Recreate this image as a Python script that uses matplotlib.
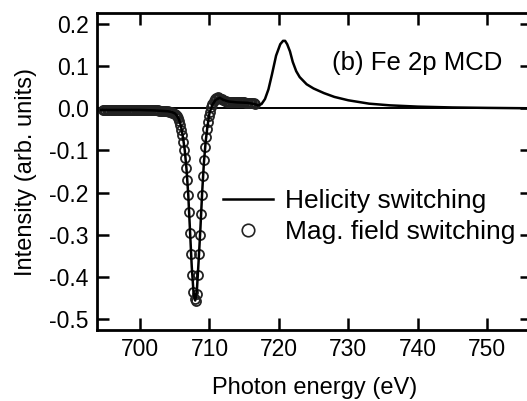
import numpy as np
import matplotlib.pyplot as plt
from matplotlib.lines import Line2D

plt.rcParams['font.family'] = ['Liberation Sans', 'DejaVu Sans']

# helicity switching (solid line)
heli_e = [694.4, 697.0, 700.0, 702.0, 703.0, 704.0, 704.6, 705.0, 705.3, 705.6,
          705.9, 706.2, 706.45, 706.7, 706.95, 707.2, 707.45, 707.7, 707.95, 708.2,
          708.45, 708.7, 708.95, 709.2, 709.45, 709.7, 710.0, 710.4, 710.9, 711.5,
          712.0, 712.8, 714.0, 715.5, 716.5, 717.0, 717.5, 718.0, 718.5, 719.0,
          719.6, 720.2, 720.6, 720.9, 721.2, 721.6, 722.0, 722.5, 723.0, 724.0,
          725.0, 726.5, 728.0, 730.0, 733.0, 736.0, 740.0, 745.0, 750.0, 756.5]
heli_i = [-0.004, -0.004, -0.004, -0.005, -0.006, -0.007, -0.009, -0.012, -0.017, -0.026,
          -0.042, -0.070, -0.100, -0.145, -0.205, -0.290, -0.375, -0.435, -0.456, -0.430,
          -0.360, -0.285, -0.200, -0.130, -0.080, -0.045, -0.012, 0.008, 0.020, 0.025,
          0.020, 0.016, 0.014, 0.013, 0.010, 0.007, 0.010, 0.022, 0.045, 0.080,
          0.125, 0.152, 0.160, 0.160, 0.152, 0.135, 0.110, 0.088, 0.074, 0.057,
          0.047, 0.036, 0.027, 0.019, 0.011, 0.007, 0.004, 0.002, 0.001, 0.000]

# magnetic field switching (open circles)
mag_e = [694.6, 694.8, 695.0, 695.2, 695.4, 695.6, 695.8, 696.0, 696.2, 696.4,
         696.6, 696.8, 697.0, 697.2, 697.4, 697.6, 697.8, 698.0, 698.2, 698.4,
         698.6, 698.8, 699.0, 699.2, 699.4, 699.6, 699.8, 700.0, 700.2, 700.4,
         700.6, 700.8, 701.0, 701.2, 701.4, 701.6, 701.8, 702.0, 702.2, 702.4,
         702.6, 702.8, 703.0, 703.2, 703.4, 703.6, 703.8, 704.0, 704.2, 704.4,
         704.6, 704.8, 705.0, 705.15, 705.3, 705.45, 705.6, 705.75, 705.9, 706.05,
         706.2, 706.35, 706.5, 706.65, 706.8, 706.95, 707.1, 707.25, 707.4, 707.55,
         707.7, 707.85, 708.0, 708.15, 708.3, 708.45, 708.6, 708.75, 708.9, 709.05,
         709.2, 709.35, 709.5, 709.65, 709.8, 709.95, 710.1, 710.25, 710.4, 710.6,
         710.8, 711.0, 711.2, 711.4, 711.6, 711.8, 712.0, 712.2, 712.4, 712.6,
         712.8, 713.0, 713.2, 713.4, 713.6, 713.8, 714.0, 714.2, 714.4, 714.6,
         714.8, 715.0, 715.2, 715.4, 715.6, 715.8, 716.0, 716.2, 716.4, 716.6]
mag_i = [-0.004, -0.004, -0.005, -0.004, -0.004, -0.005, -0.004, -0.004, -0.004, -0.005,
         -0.004, -0.004, -0.004, -0.005, -0.004, -0.004, -0.004, -0.004, -0.005, -0.004,
         -0.004, -0.004, -0.005, -0.004, -0.004, -0.004, -0.004, -0.005, -0.004, -0.004,
         -0.004, -0.005, -0.004, -0.004, -0.004, -0.005, -0.004, -0.005, -0.005, -0.005,
         -0.005, -0.006, -0.006, -0.006, -0.006, -0.007, -0.007, -0.007, -0.008, -0.009,
         -0.010, -0.011, -0.013, -0.015, -0.019, -0.024, -0.031, -0.040, -0.051, -0.064,
         -0.080, -0.098, -0.118, -0.142, -0.170, -0.205, -0.245, -0.295, -0.345, -0.395,
         -0.435, -0.452, -0.456, -0.440, -0.395, -0.345, -0.300, -0.250, -0.205, -0.160,
         -0.122, -0.092, -0.068, -0.048, -0.032, -0.019, -0.008, 0.002, 0.010, 0.017,
         0.022, 0.025, 0.026, 0.025, 0.023, 0.021, 0.019, 0.018, 0.017, 0.016,
         0.016, 0.015, 0.015, 0.015, 0.015, 0.014, 0.014, 0.014, 0.014, 0.014,
         0.014, 0.014, 0.013, 0.013, 0.013, 0.013, 0.013, 0.012, 0.012, 0.011]

y_ticks = [0.2, 0.1, 0.0, -0.1, -0.2, -0.3, -0.4, -0.5]
x_ticks = [700, 710, 720, 730, 740, 750]

fig = plt.figure(figsize=(5.27, 4.01), dpi=100)
ax = fig.add_axes([0.184, 0.177, 0.826, 0.7905])

ax.axhline(0, color='black', lw=1.4, zorder=1)
ax.plot(mag_e, mag_i, 'o', ms=6.5, mfc='none', mec='#222222', mew=1.3, zorder=2)
ax.plot(heli_e, heli_i, '-', color='black', lw=1.8, zorder=3)

ax.set_xlim(693.8, 756.5)
ax.set_ylim(-0.526, 0.226)
ax.set_xticks(x_ticks)
ax.set_yticks(y_ticks)
ax.set_yticklabels([f"{v:.1f}" for v in y_ticks])

for s in ax.spines.values():
    s.set_linewidth(2.0)
ax.tick_params(direction='in', length=8.5, width=1.8, labelsize=16.5,
               top=True, right=True)
ax.tick_params(axis='x', pad=6)
ax.tick_params(axis='y', pad=6)

ax.set_xlabel('Photon energy (eV)', fontsize=17, labelpad=11)
ax.set_ylabel('Intensity (arb. units)', fontsize=17, labelpad=9)

ax.text(0.540, 0.843, '(b) Fe 2p MCD', transform=ax.transAxes,
        fontsize=18.5, va='center', ha='left')

handles = [Line2D([], [], color='black', lw=1.8),
           Line2D([], [], ls='none', marker='o', ms=9, mfc='none',
                  mec='#222222', mew=1.2)]
ax.legend(handles, ['Helicity switching', 'Mag. field switching'],
          loc='upper left', bbox_to_anchor=(223 / 527, 1 - 189 / 401),
          bbox_transform=fig.transFigure, frameon=False, fontsize=19,
          handlelength=1.9, handletextpad=0.45, labelspacing=0.28,
          borderpad=0, borderaxespad=0)

fig.savefig('out.png', dpi=100)
